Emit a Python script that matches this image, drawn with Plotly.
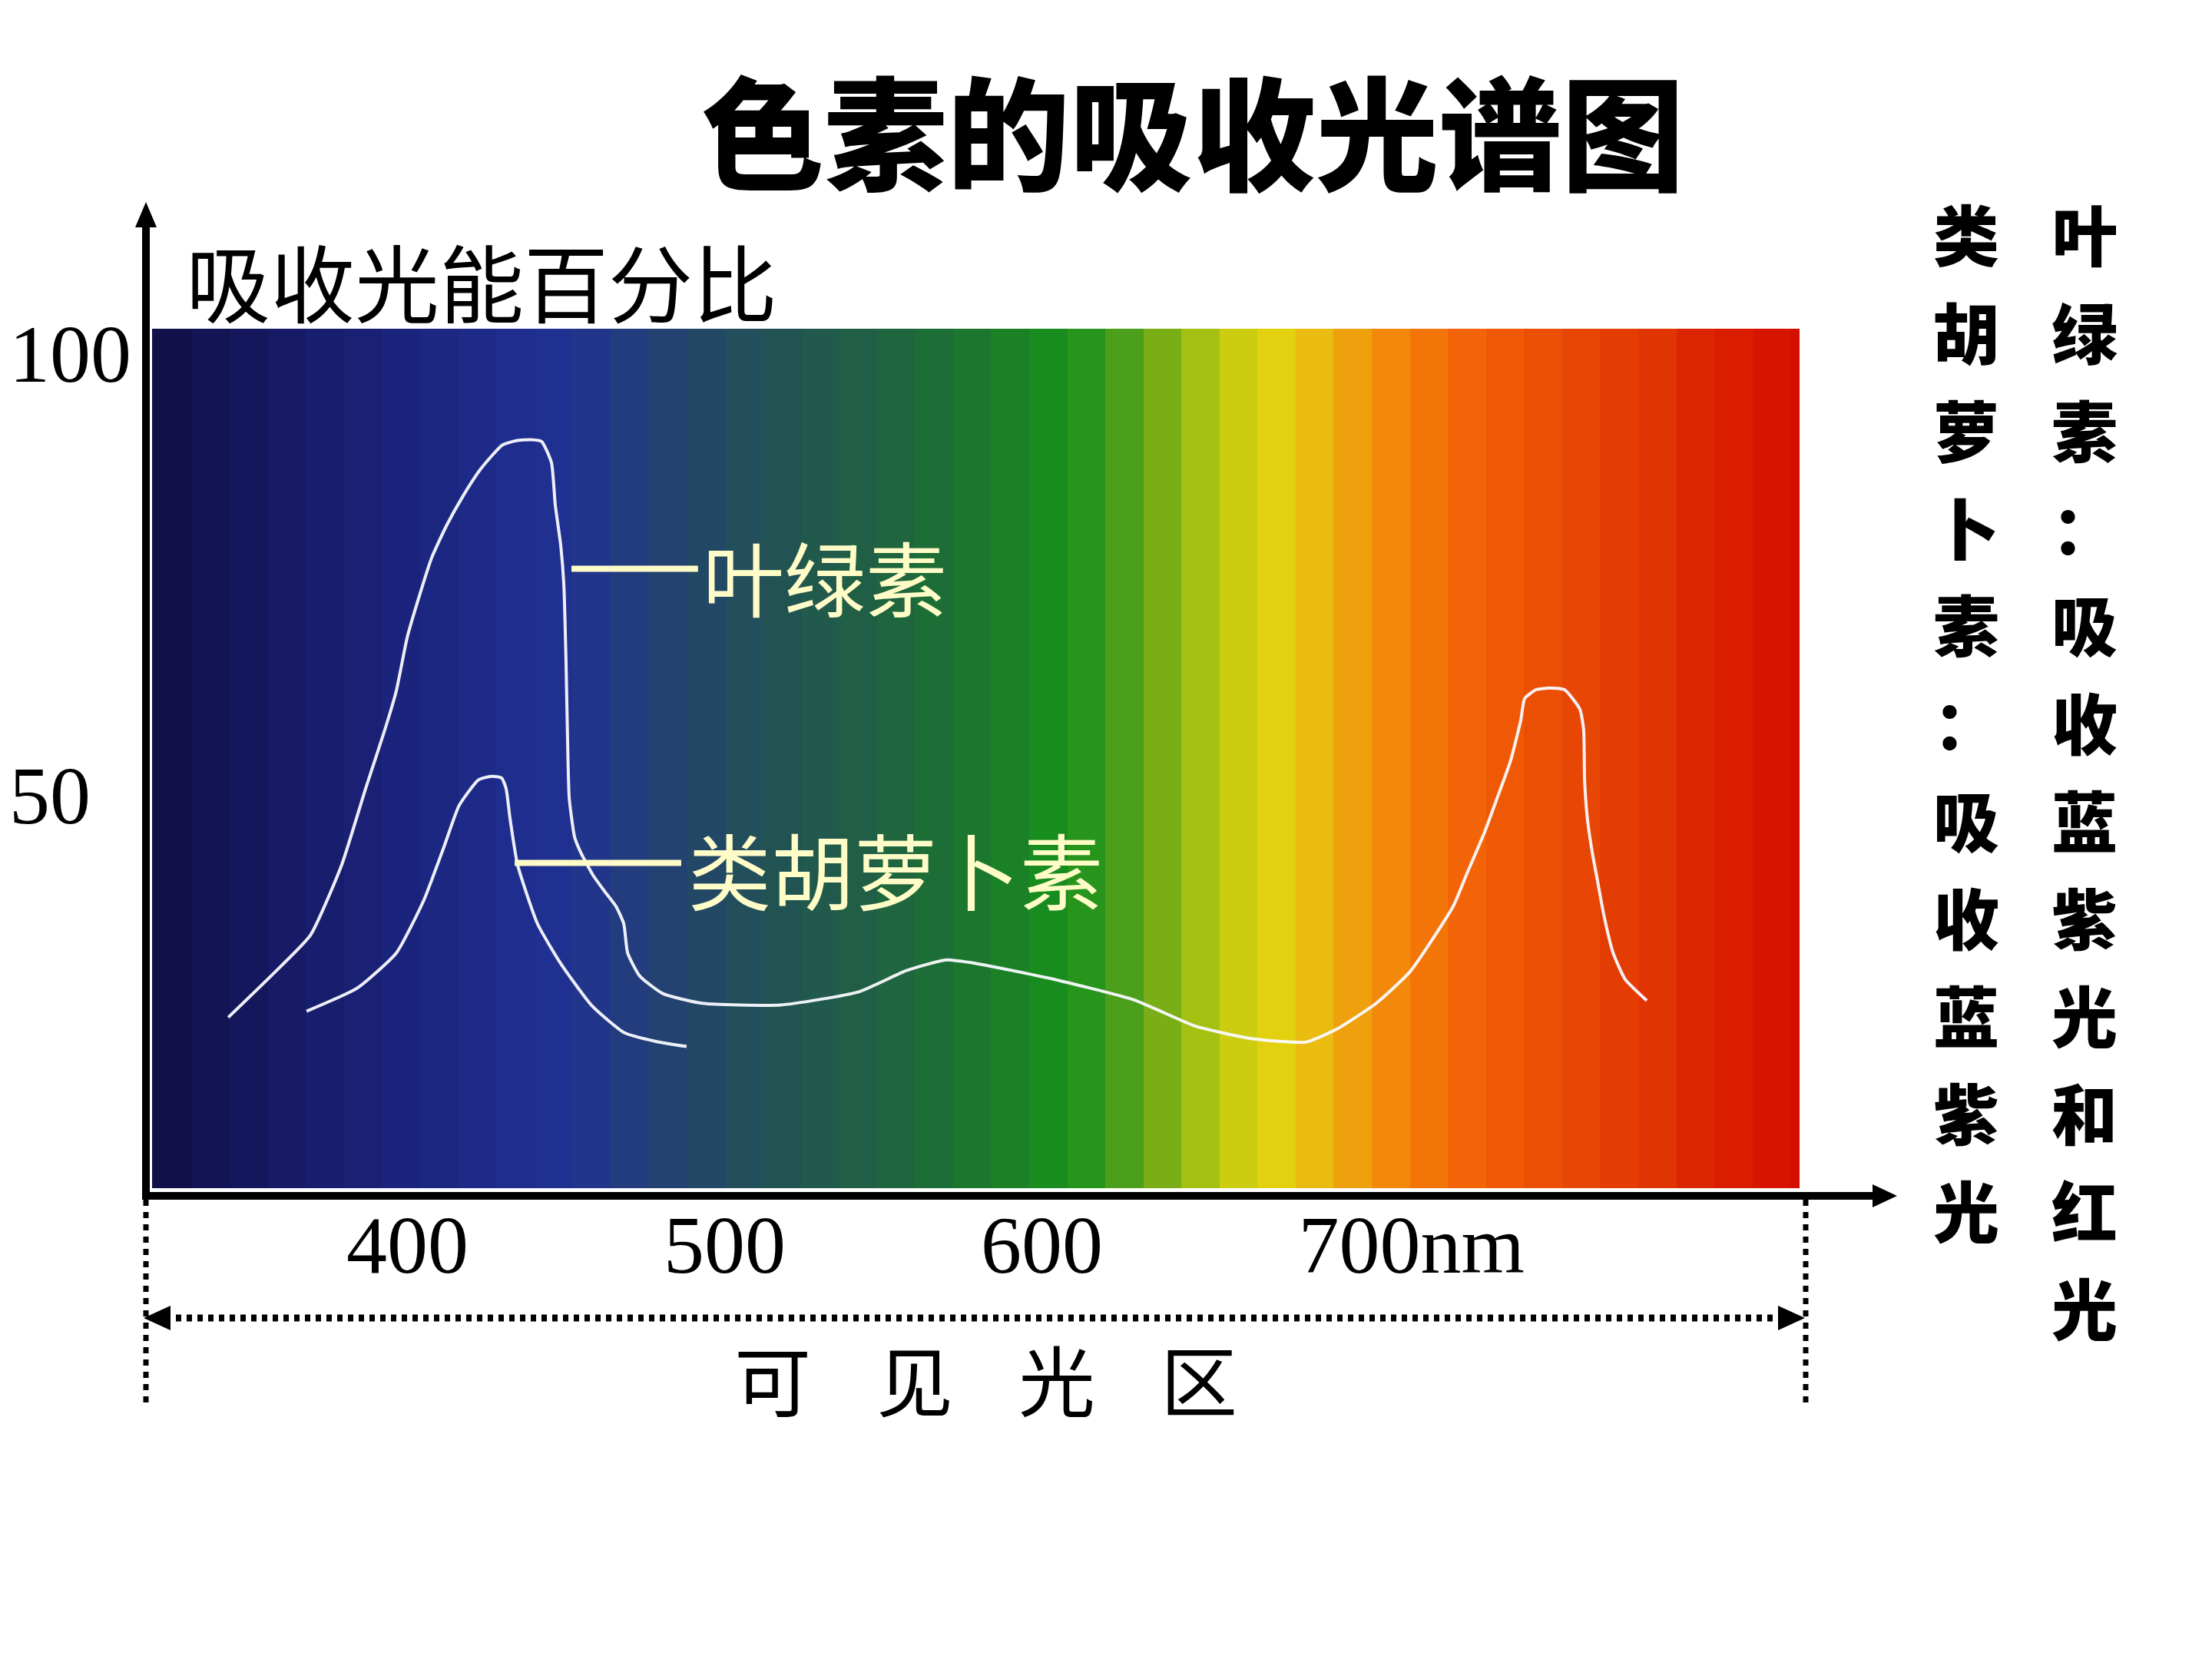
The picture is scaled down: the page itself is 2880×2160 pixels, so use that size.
import plotly.graph_objects as go

# ---------------- data ----------------
# chlorophyll absorption curve (wavelength nm, absorbed light %)
chl_nm = [343.5, 357.0, 369.4, 379.3, 386.8, 392.9, 396.5, 399.9, 403.3, 407.6, 412.2,
          417.8, 423.1, 429.9, 434.3, 438.9, 442.3, 445.4, 446.6, 448.3, 449.3, 450.0,
          450.5, 451.0, 452.7, 454.6, 458.5, 462.1, 465.7, 468.2, 469.4, 473.2, 480.5,
          492.9, 517.6, 542.3, 557.3, 569.6, 579.3, 604.0, 628.9, 648.5, 666.0, 683.2,
          693.1, 705.4, 716.1, 729.7, 734.0, 739.6, 743.7, 747.8, 751.0, 752.2, 755.8,
          760.2, 764.8, 769.6, 770.8, 771.1, 772.0, 773.5, 775.2, 777.1, 780.0, 783.9, 790.7]
chl_abs = [24.9, 29.6, 34.2, 42.2, 50.8, 57.5, 61.9, 67.9, 72.1, 76.9, 80.5,
           84.1, 87.0, 89.7, 90.2, 90.3, 90.1, 87.7, 82.9, 78.4, 73.9, 65.0,
           55.9, 49.7, 45.3, 43.6, 41.0, 39.2, 37.5, 35.5, 32.2, 29.6, 27.6,
           26.5, 26.3, 27.8, 30.2, 31.4, 31.0, 29.2, 26.9, 23.9, 22.5, 22.1,
           23.6, 26.5, 30.1, 37.5, 41.2, 45.9, 49.9, 54.0, 58.6, 61.0, 62.0,
           62.2, 62.0, 59.8, 57.5, 51.7, 47.3, 43.6, 40.3, 36.6, 32.3, 29.2, 26.8]

# carotenoid absorption curve
car_nm = [368.2, 384.1, 396.5, 405.2, 411.5, 416.3, 422.4, 426.5, 429.7, 431.1, 432.3,
          434.7, 441.0, 448.5, 458.2, 468.2, 478.1, 488.0]
car_abs = [25.6, 28.2, 32.2, 38.2, 44.2, 48.9, 51.8, 52.2, 52.0, 50.8, 47.5,
           42.2, 35.5, 30.9, 26.2, 23.2, 22.2, 21.6]

# background spectrum bands (edges in nm) and their colours
spectrum_edges_nm = [319, 332, 344, 356, 368, 380, 392, 404, 416, 428, 440, 452, 464, 476,
                     488, 500, 512, 524, 536, 548, 560, 572, 584, 596, 608, 620, 632, 644,
                     656, 668, 680, 692, 704, 716, 728, 740, 752, 764, 776, 788, 800, 812,
                     824, 836, 840]
spectrum_colors = ["#11104a", "#131454", "#15175c", "#171b66", "#181e6e", "#1a2175",
                   "#1b247c", "#1c2782", "#1e2a88", "#1f2e8e", "#203090", "#21368a",
                   "#223c7e", "#234272", "#234866", "#234e5c", "#225353", "#21594c",
                   "#205f45", "#1f663e", "#1d6e36", "#1c772e", "#1a8126", "#198c1f",
                   "#27951c", "#4c9f1a", "#7aae16", "#a4c011", "#cccd10", "#e3d00f",
                   "#eabb10", "#efa00d", "#f2890a", "#f37508", "#f26407", "#ef5905",
                   "#eb4f04", "#e74604", "#e33d03", "#e03403", "#dc2502", "#da1d01",
                   "#d61400", "#d40e00"]

x_ticks = [400, 500, 600, 700]
x_ticklabels = ["400", "500", "600", "700nm"]
y_ticks = [100, 50]
y_ticklabels = ["100", "50"]

title_text = "色素的吸收光谱图"
y_title = "吸收光能百分比"
x_region = "可见光区"
chl_label = "叶绿素"
car_label = "类胡萝卜素"
note_car = "类胡萝卜素：吸收蓝紫光"
note_chl = "叶绿素：吸收蓝紫光和红光"

# ---------------- layout helpers ----------------
W, H = 2880, 2160
CJK = "Noto Sans CJK SC"
SERIF = "Liberation Serif"


def PX(x):
    return x / W


def PY(y):
    return 1 - y / H


X_RANGE = [319.49, 838.86]
Y_RANGE = [5.565, 102.87]

fig = go.Figure()

n = len(spectrum_colors)
cscale = [[i / (n - 1), c] for i, c in enumerate(spectrum_colors)]
fig.add_trace(go.Heatmap(
    x=spectrum_edges_nm, y=Y_RANGE, z=[list(range(n))],
    colorscale=cscale, zmin=0, zmax=n - 1, showscale=False, hoverinfo="skip"))

line_style = dict(color="rgba(250,250,255,0.95)", width=4, shape="spline", smoothing=0.5)
fig.add_trace(go.Scatter(x=chl_nm, y=chl_abs, mode="lines", line=line_style,
                         hoverinfo="skip", showlegend=False))
fig.add_trace(go.Scatter(x=car_nm, y=car_abs, mode="lines", line=line_style,
                         hoverinfo="skip", showlegend=False))

shapes = []
black = "#000000"
# y axis with arrow
shapes.append(dict(type="line", xref="paper", yref="paper", x0=PX(190), x1=PX(190),
                   y0=PY(1562), y1=PY(290), line=dict(color=black, width=10)))
shapes.append(dict(type="path", xref="paper", yref="paper",
                   path=f"M {PX(190)},{PY(263)} L {PX(176)},{PY(296)} L {PX(204)},{PY(296)} Z",
                   fillcolor=black, line=dict(width=0)))
# x axis with arrow
shapes.append(dict(type="line", xref="paper", yref="paper", x0=PX(185), x1=PX(2442),
                   y0=PY(1557), y1=PY(1557), line=dict(color=black, width=10)))
shapes.append(dict(type="path", xref="paper", yref="paper",
                   path=f"M {PX(2470)},{PY(1557)} L {PX(2438)},{PY(1542)} L {PX(2438)},{PY(1572)} Z",
                   fillcolor=black, line=dict(width=0)))
# dotted guides
for gx in (190, 2351):
    shapes.append(dict(type="line", xref="paper", yref="paper", x0=PX(gx), x1=PX(gx),
                       y0=PY(1562), y1=PY(1828), line=dict(color=black, width=7, dash="8px,8px")))
shapes.append(dict(type="line", xref="paper", yref="paper", x0=PX(215), x1=PX(2322),
                   y0=PY(1716), y1=PY(1716), line=dict(color=black, width=9, dash="7px,7px")))
shapes.append(dict(type="path", xref="paper", yref="paper",
                   path=f"M {PX(187)},{PY(1716)} L {PX(222)},{PY(1700)} L {PX(222)},{PY(1732)} Z",
                   fillcolor=black, line=dict(width=0)))
shapes.append(dict(type="path", xref="paper", yref="paper",
                   path=f"M {PX(2350)},{PY(1716)} L {PX(2315)},{PY(1700)} L {PX(2315)},{PY(1732)} Z",
                   fillcolor=black, line=dict(width=0)))

label_col = "#fffcc8"
# leader lines to curve labels
shapes.append(dict(type="line", xref="x", yref="y", x0=451.7, x1=491.6, y0=75.7, y1=75.7,
                   line=dict(color=label_col, width=8)))
shapes.append(dict(type="line", xref="x", yref="y", x0=433.8, x1=486.3, y0=42.4, y1=42.4,
                   line=dict(color=label_col, width=8)))

ann = []
ann.append(dict(text=title_text, xref="paper", yref="paper", x=PX(1553), y=PY(166),
                xanchor="center", yanchor="middle", showarrow=False,
                font=dict(family=CJK, size=160, color=black, weight=900)))
ann.append(dict(text=y_title, xref="paper", yref="paper", x=PX(240), y=PY(364),
                xanchor="left", yanchor="middle", showarrow=False,
                font=dict(family=CJK, size=110, color=black)))
for v, t in zip(y_ticks, y_ticklabels):
    ann.append(dict(text=t, xref="paper", yref="y", x=PX(10), y=v, xanchor="left",
                    yanchor="middle", showarrow=False,
                    font=dict(family=SERIF, size=106, color=black)))
for v, t in zip(x_ticks, x_ticklabels):
    if t.endswith("nm"):
        t = "<span style='color:rgba(0,0,0,0)'>nm</span>" + t
    ann.append(dict(text=t, xref="x", yref="paper", x=v, y=PY(1621), xanchor="center",
                    yanchor="middle", showarrow=False,
                    font=dict(family=SERIF, size=106, color=black)))
for i, ch in enumerate(x_region):
    ann.append(dict(text=ch, xref="paper", yref="paper", x=PX(1006 + 185 * i), y=PY(1793),
                    xanchor="center", yanchor="middle", showarrow=False,
                    font=dict(family=CJK, size=100, color=black)))
# vertical notes: each character stacked at a fixed pitch
NOTE_SIZE = 86
NOTE_PITCH = 127
for col_x, txt in ((2560, note_car), (2714, note_chl)):
    for i, ch in enumerate(txt):
        ann.append(dict(text=ch, xref="paper", yref="paper", x=PX(col_x),
                        y=PY(303 + NOTE_PITCH * i), xanchor="center", yanchor="middle",
                        showarrow=False, borderpad=0,
                        font=dict(family=CJK, size=NOTE_SIZE, color=black, weight=900)))
ann.append(dict(text=chl_label, xref="x", yref="y", x=492.6, y=75.0, xanchor="left",
                yanchor="middle", showarrow=False,
                font=dict(family=CJK, size=106, color=label_col)))
ann.append(dict(text=car_label, xref="x", yref="y", x=488.0, y=41.8, xanchor="left",
                yanchor="middle", showarrow=False,
                font=dict(family=CJK, size=108, color=label_col)))

fig.update_layout(
    width=W, height=H, margin=dict(l=0, r=0, t=0, b=0),
    paper_bgcolor="white", plot_bgcolor="white", showlegend=False,
    xaxis=dict(domain=[PX(198), PX(2343)], range=X_RANGE, visible=False, fixedrange=True),
    yaxis=dict(domain=[PY(1547), PY(428)], range=Y_RANGE, visible=False, fixedrange=True),
    shapes=shapes, annotations=ann,
)

fig.write_html("out.html")
